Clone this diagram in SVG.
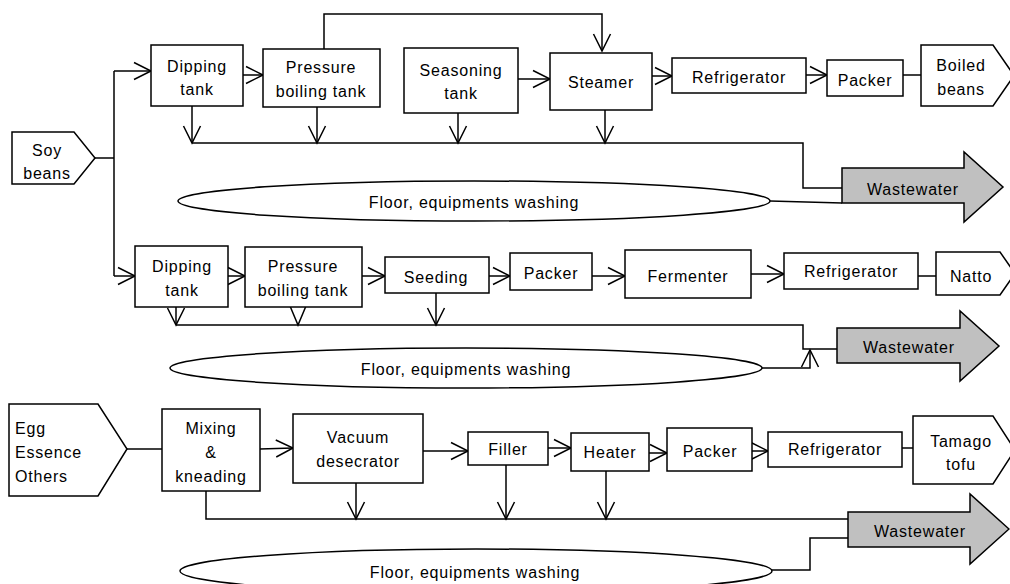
<svg xmlns="http://www.w3.org/2000/svg" width="1010" height="584" viewBox="0 0 1010 584">
  <style>
    .box { fill: #ffffff; stroke: #000000; stroke-width: 1.5; }
    .waste { fill: #c0c0c0; stroke: #000000; stroke-width: 1.5; }
    .wash { fill: #ffffff; stroke: #000000; stroke-width: 1.5; }
    .ln { fill: none; stroke: #000000; stroke-width: 1.5; }
    .arr { fill: none; stroke: #000000; stroke-width: 1.5; marker-end: url(#open); }
    text { font-family: "Liberation Sans", Arial, sans-serif; font-size: 16px; letter-spacing: 0.8px; fill: #000000; text-anchor: middle; }
    text.left { text-anchor: start; }
  </style>
  <defs>
    <marker id="open" markerUnits="userSpaceOnUse" markerWidth="20" markerHeight="22" viewBox="-18 -10 20 20" refX="0" refY="0" orient="auto">
      <path d="M-17,-8.5 L0,0 L-17,8.5" fill="none" stroke="#000000" stroke-width="1.5"/>
    </marker>
  </defs>

  <rect width="1010" height="584" fill="#ffffff"/>

  <!-- connectors -->
  <g id="connectors">
    <!-- line 1: boiled beans -->
    <path class="ln" d="M95,158 L114,158"/>
    <path class="ln" d="M114,71 L114,276"/>
    <path class="arr" d="M114,71 L151,71"/>
    <path class="arr" d="M243,75 L263,75"/>
    <path class="arr" d="M324,49 L324,14 L602,14 L602,51"/>
    <path class="arr" d="M518,79 L550,79"/>
    <path class="arr" d="M652,76 L672,76"/>
    <path class="arr" d="M806,75 L827,75"/>
    <path class="ln" d="M903,75 L921,75"/>
    <path class="arr" d="M192,106 L192,143"/>
    <path class="arr" d="M317,107 L317,143"/>
    <path class="arr" d="M458,113 L458,143"/>
    <path class="arr" d="M605,110 L605,143"/>
    <path class="ln" d="M192,143 L803,143 L803,188 L842,188"/>
    <path class="ln" d="M770,201 L842,203"/>

    <!-- line 2: natto -->
    <path class="arr" d="M114,276 L135,276"/>
    <path class="arr" d="M228,276 L245,276"/>
    <path class="arr" d="M362,276 L385,276"/>
    <path class="arr" d="M489,276 L510,276"/>
    <path class="arr" d="M592,276 L625,276"/>
    <path class="arr" d="M751,274 L784,274"/>
    <path class="ln" d="M918,276 L936,276"/>
    <path class="arr" d="M176,307 L176,325"/>
    <path class="ln" d="M290,306 L298,325 L306,306"/>
    <path class="arr" d="M436,293 L436,325"/>
    <path class="ln" d="M176,325 L803,325 L803,349 L837,349"/>
    <path class="arr" d="M762,368 L810,368 L810,350"/>

    <!-- line 3: tamago tofu -->
    <path class="ln" d="M127,449 L162,449"/>
    <path class="arr" d="M260,449 L293,448"/>
    <path class="arr" d="M423,451 L468,451"/>
    <path class="arr" d="M548,448 L571,448"/>
    <path class="arr" d="M649,453 L667,453"/>
    <path class="arr" d="M752,451 L768,451"/>
    <path class="ln" d="M902,448 L913,448"/>
    <path class="ln" d="M206,491 L206,519 L848,519"/>
    <path class="arr" d="M356,483 L356,519"/>
    <path class="arr" d="M506,465 L506,519"/>
    <path class="arr" d="M606,471 L606,519"/>
    <path class="ln" d="M772,570 L810,570 L810,538 L848,538"/>
  </g>

  <!-- line 1 nodes -->
  <g id="soy-beans">
    <polygon class="box" points="12,132 74,132 95,158 74,184 12,184"/>
    <text x="47" y="156">Soy</text>
    <text x="47" y="179">beans</text>
  </g>
  <g id="dipping-tank-1">
    <rect class="box" x="151" y="45" width="92" height="61"/>
    <text x="197" y="72">Dipping</text>
    <text x="197" y="95">tank</text>
  </g>
  <g id="pressure-boiling-tank-1">
    <rect class="box" x="263" y="49" width="117" height="58"/>
    <text x="321" y="73">Pressure</text>
    <text x="321" y="97">boiling tank</text>
  </g>
  <g id="seasoning-tank">
    <rect class="box" x="404" y="48" width="114" height="65"/>
    <text x="461" y="76">Seasoning</text>
    <text x="461" y="99">tank</text>
  </g>
  <g id="steamer">
    <rect class="box" x="550" y="53" width="102" height="57"/>
    <text x="601" y="88">Steamer</text>
  </g>
  <g id="refrigerator-1">
    <rect class="box" x="672" y="58" width="134" height="35"/>
    <text x="739" y="83">Refrigerator</text>
  </g>
  <g id="packer-1">
    <rect class="box" x="827" y="60" width="76" height="36"/>
    <text x="865" y="86">Packer</text>
  </g>
  <g id="boiled-beans">
    <polygon class="box" points="921,45 993,45 1014,75.5 993,106 921,106"/>
    <text x="961" y="71">Boiled</text>
    <text x="961" y="95">beans</text>
  </g>
  <g id="wastewater-1">
    <polygon class="waste" points="842,168 964,168 964,152 1003,187 964,222 964,203 842,203"/>
    <text x="913" y="195">Wastewater</text>
  </g>
  <g id="washing-1">
    <ellipse class="wash" cx="474" cy="201" rx="296" ry="20"/>
    <text x="474" y="208">Floor, equipments washing</text>
  </g>

  <!-- line 2 nodes -->
  <g id="dipping-tank-2">
    <rect class="box" x="135" y="246" width="93" height="61"/>
    <text x="182" y="272">Dipping</text>
    <text x="182" y="296">tank</text>
  </g>
  <g id="pressure-boiling-tank-2">
    <rect class="box" x="245" y="247" width="117" height="60"/>
    <text x="303" y="272">Pressure</text>
    <text x="303" y="296">boiling tank</text>
  </g>
  <g id="seeding">
    <rect class="box" x="385" y="257" width="104" height="36"/>
    <text x="436" y="283">Seeding</text>
  </g>
  <g id="packer-2">
    <rect class="box" x="510" y="253" width="82" height="37"/>
    <text x="551" y="279">Packer</text>
  </g>
  <g id="fermenter">
    <rect class="box" x="625" y="250" width="126" height="48"/>
    <text x="688" y="282">Fermenter</text>
  </g>
  <g id="refrigerator-2">
    <rect class="box" x="784" y="253" width="134" height="36"/>
    <text x="851" y="277">Refrigerator</text>
  </g>
  <g id="natto">
    <polygon class="box" points="936,252 1000,252 1015,273.5 1000,295 936,295"/>
    <text x="971" y="282">Natto</text>
  </g>
  <g id="wastewater-2">
    <polygon class="waste" points="837,328 960,328 960,311 999,346 960,381 960,363 837,363"/>
    <text x="909" y="353">Wastewater</text>
  </g>
  <g id="washing-2">
    <ellipse class="wash" cx="466" cy="368" rx="296" ry="20"/>
    <text x="466" y="375">Floor, equipments washing</text>
  </g>

  <!-- line 3 nodes -->
  <g id="egg-essence-others">
    <polygon class="box" points="9,404 98,404 127,449 98,496 9,496"/>
    <text class="left" x="15" y="434">Egg</text>
    <text class="left" x="15" y="458">Essence</text>
    <text class="left" x="15" y="482">Others</text>
  </g>
  <g id="mixing-kneading">
    <rect class="box" x="162" y="409" width="98" height="82"/>
    <text x="211" y="434">Mixing</text>
    <text x="211" y="458">&amp;</text>
    <text x="211" y="482">kneading</text>
  </g>
  <g id="vacuum-desecrator">
    <rect class="box" x="293" y="414" width="130" height="69"/>
    <text x="358" y="443">Vacuum</text>
    <text x="358" y="467">desecrator</text>
  </g>
  <g id="filler">
    <rect class="box" x="468" y="432" width="80" height="33"/>
    <text x="508" y="455">Filler</text>
  </g>
  <g id="heater">
    <rect class="box" x="571" y="433" width="78" height="38"/>
    <text x="610" y="458">Heater</text>
  </g>
  <g id="packer-3">
    <rect class="box" x="667" y="428" width="85" height="43"/>
    <text x="710" y="457">Packer</text>
  </g>
  <g id="refrigerator-3">
    <rect class="box" x="768" y="432" width="134" height="35"/>
    <text x="835" y="455">Refrigerator</text>
  </g>
  <g id="tamago-tofu">
    <polygon class="box" points="913,416 993,416 1015,450 993,484 913,484"/>
    <text x="961" y="447">Tamago</text>
    <text x="961" y="470">tofu</text>
  </g>
  <g id="wastewater-3">
    <polygon class="waste" points="848,512 970,512 970,494 1009,529 970,564 970,547 848,547"/>
    <text x="920" y="537">Wastewater</text>
  </g>
  <g id="washing-3">
    <ellipse class="wash" cx="476" cy="571" rx="296" ry="22"/>
    <text x="475" y="578">Floor, equipments washing</text>
  </g>
</svg>
